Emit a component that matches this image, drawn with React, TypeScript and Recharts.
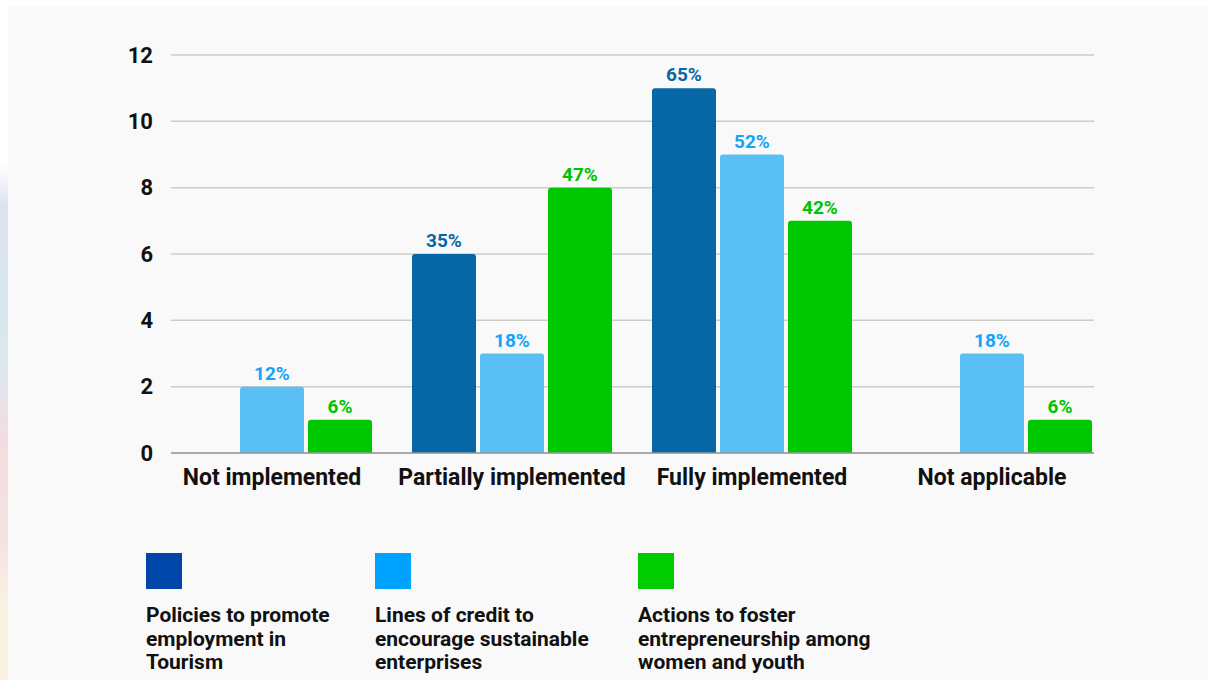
import React from 'react';
import { BarChart, Bar, XAxis, YAxis, CartesianGrid, LabelList } from 'recharts';

const categories = ['Not implemented', 'Partially implemented', 'Fully implemented', 'Not applicable'];
const policiesValues = [0, 6, 11, 0];
const policiesLabels = ['', '35%', '65%', ''];
const creditValues = [2, 3, 9, 3];
const creditLabels = ['12%', '18%', '52%', '18%'];
const actionsValues = [1, 8, 7, 1];
const actionsLabels = ['6%', '47%', '42%', '6%'];
const yTicks = [0, 2, 4, 6, 8, 10, 12];

const seriesNames = [
    'Policies to promote employment in Tourism',
    'Lines of credit to encourage sustainable enterprises',
    'Actions to foster entrepreneurship among women and youth',
];

const data = categories.map((name, i) => ({
    name,
    policies: policiesValues[i],
    policiesLabel: policiesLabels[i],
    credit: creditValues[i],
    creditLabel: creditLabels[i],
    actions: actionsValues[i],
    actionsLabel: actionsLabels[i],
}));

const FONT = 'Roboto, "Noto Sans", sans-serif';

const makeLabel = (color: string) => (props: any) => {
    const { x, y, width, value } = props;
    if (!value) return null;
    return (
        <text
            x={x + width / 2}
            y={y - 7}
            textAnchor="middle"
            fill={color}
            fontFamily={FONT}
            fontWeight={700}
            fontSize={19}
        >
            {value}
        </text>
    );
};

const legendItems = [
    { name: seriesNames[0], color: '#0046a9', left: 146, width: 200 },
    { name: seriesNames[1], color: '#00a2ff', left: 375, width: 240 },
    { name: seriesNames[2], color: '#00cc00', left: 638, width: 250 },
];

export default function App() {
    return (
        <div
            style={{
                position: 'fixed',
                left: 0,
                top: 0,
                width: 1208,
                height: 680,
                background: '#ffffff',
                overflow: 'hidden',
                fontFamily: FONT,
            }}
        >
            {/* decorative strip on the left edge */}
            <div
                style={{
                    position: 'absolute',
                    left: 0,
                    top: 0,
                    width: 8,
                    height: 680,
                    background:
                        'linear-gradient(180deg, #ffffff 0%, #ffffff 24%, #dfe3f0 30%, #d8e8ee 45%, #dde8ee 55%, #f3dde0 65%, #f5e3e4 80%, #faf3df 90%, #faf3df 100%)',
                }}
            />
            <div
                style={{
                    position: 'absolute',
                    left: 8,
                    top: 6,
                    width: 1200,
                    height: 674,
                    background: '#f9f9f9',
                }}
            />
            <div style={{ position: 'absolute', left: 0, top: 0 }}>
                <BarChart
                    width={1208}
                    height={520}
                    data={data}
                    margin={{ top: 55, right: 114, left: 0, bottom: 27 }}
                    barSize={64}
                    barGap={4}
                    barCategoryGap={20}
                >
                    <CartesianGrid vertical={false} stroke="#cccccc" strokeWidth={1.5} />
                    <XAxis
                        dataKey="name"
                        padding={{ left: -19, right: -18 }}
                        height={40}
                        tickLine={false}
                        tickSize={0}
                        tickMargin={16}
                        axisLine={{ stroke: '#9a9a9a', strokeWidth: 1.5 }}
                        tick={{ fill: '#111111', fontSize: 23, fontWeight: 700, fontFamily: FONT }}
                        interval={0}
                    />
                    <YAxis
                        width={171}
                        domain={[0, 12]}
                        ticks={yTicks}
                        axisLine={false}
                        tickLine={false}
                        tickSize={0}
                        tickMargin={18}
                        tick={{ fill: '#111111', fontSize: 22, fontWeight: 700, fontFamily: FONT }}
                    />
                    <Bar dataKey="policies" name={seriesNames[0]} fill="#0567a6" radius={[3, 3, 0, 0]} isAnimationActive={false}>
                        <LabelList dataKey="policiesLabel" content={makeLabel('#0567a6')} />
                    </Bar>
                    <Bar dataKey="credit" name={seriesNames[1]} fill="#59bff5" radius={[3, 3, 0, 0]} isAnimationActive={false}>
                        <LabelList dataKey="creditLabel" content={makeLabel('#16a3f7')} />
                    </Bar>
                    <Bar dataKey="actions" name={seriesNames[2]} fill="#00c800" radius={[3, 3, 0, 0]} isAnimationActive={false}>
                        <LabelList dataKey="actionsLabel" content={makeLabel('#00c300')} />
                    </Bar>
                </BarChart>
            </div>
            {legendItems.map((item) => (
                <div key={item.name} style={{ position: 'absolute', left: item.left, top: 553 }}>
                    <div style={{ width: 36, height: 36, background: item.color }} />
                    <div
                        style={{
                            marginTop: 15,
                            width: item.width,
                            fontSize: 21,
                            fontWeight: 700,
                            lineHeight: '23.5px',
                            color: '#111111',
                        }}
                    >
                        {item.name}
                    </div>
                </div>
            ))}
        </div>
    );
}
